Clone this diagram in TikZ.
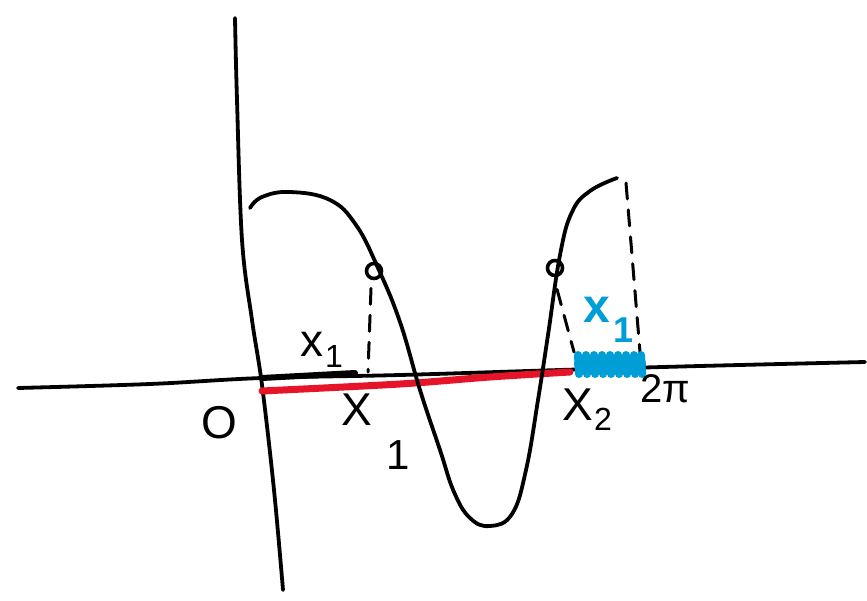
\documentclass[tikz,border=0pt]{standalone}
\usepackage{fontspec}
\setmainfont{Liberation Sans}
\definecolor{penred}{RGB}{230,20,40}
\definecolor{penblue}{RGB}{0,158,214}
\begin{document}
\begin{tikzpicture}[x=1pt,y=-1pt,
  pen/.style={line width=3.8pt,line cap=round,line join=round},
  lbl/.style={inner sep=0pt,font=\fontsize{46}{50}\selectfont},
  sub/.style={inner sep=0pt,font=\fontsize{32}{36}\selectfont},
  dot/.style={circle,draw,line width=3.6pt,minimum width=15pt,inner sep=0pt},
  dashline/.style={pen,line width=3pt,dash pattern=on 16pt off 11pt}]
\useasboundingbox (0,0) rectangle (867,601);
% axes
\draw[pen] plot[smooth,tension=0.6] coordinates {(235,18) (237,100) (242,240) (252,320) (262,385) (274,490) (283,590)};
\draw[pen] plot[smooth,tension=0.6] coordinates {(18,388) (150,384) (262,378) (400,375) (560,370) (700,366) (865,362)};
% red segment
\draw[penred,line width=7pt,line cap=round] plot[smooth] coordinates {(262,391) (400,384) (490,377) (570,372)};
% black x1 bracket
\draw[pen,line width=6pt] (262,378) -- (355,373);
% curve
\draw[pen] plot[smooth,tension=0.7] coordinates {(250,208) (262,197) (290,192) (330,200) (356,225) (378,268) (400,322) (420,390) (440,450) (454,492) (470,518) (490,526) (512,514) (526,470) (538,400) (548,335) (560,255) (572,212) (590,191) (617,178)};
% points
\node[dot] (p1) at (374,271) {};
\node[dot] (p2) at (555,268) {};
\coordinate (q1) at (368,372);
\coordinate (q2) at (574,352);
\coordinate (t3) at (626,183);
\coordinate (q3) at (640,352);
\draw[dashline] (p1.south) ++(-3,8) -- (q1);
\draw[dashline] (p2.south) ++(2,12) -- (q2);
\draw[dashline] (t3) -- (q3);
% blue band
\draw[penblue,line width=16pt,line cap=round] (582,364) -- (638,364);
\foreach \x in {578,586,594,602,610,618,626,634,641}
  \draw[penblue,line width=8pt,line cap=round] (\x,355) -- (\x+1,374);
% labels
\node[lbl] (O) at (219,423) {O};
\node[lbl] (X1) at (357,410) {X};
\node[sub,font=\fontsize{42}{46}\selectfont] (X1s) at (398,455) {1};
\node[lbl] (X2) at (578,405) {X};
\node[sub] (X2s) at (603,419) {2};
\node[lbl,font=\fontsize{40}{44}\selectfont] (tp) at (665,389) {2π};
\node[lbl] (bx) at (312,344) {x};
\node[sub] (bxs) at (334,356) {1};
\node[lbl,text=penblue,font=\fontsize{48}{52}\selectfont\bfseries] (cx) at (597,310) {x};
\node[sub,text=penblue,font=\fontsize{36}{40}\selectfont\bfseries] (cxs) at (624,330) {1};
\end{tikzpicture}
\end{document}
